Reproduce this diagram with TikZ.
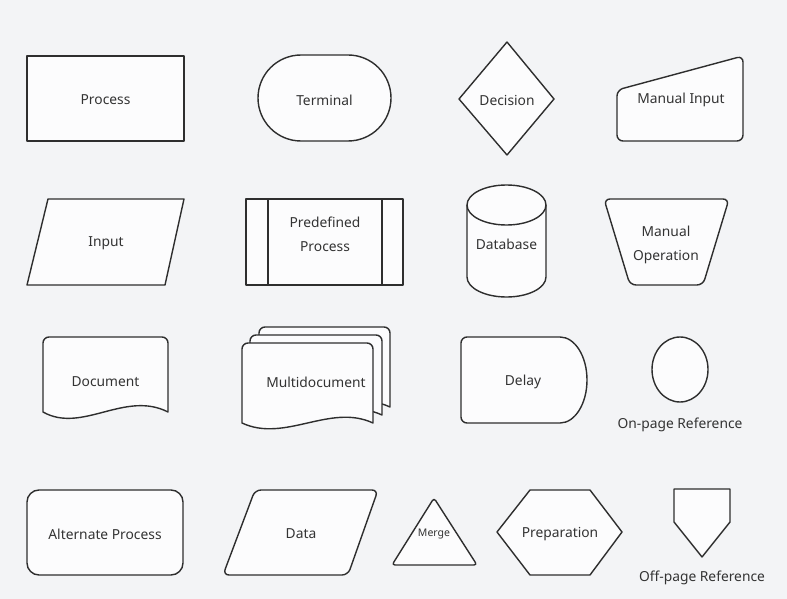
\documentclass[tikz,border=0pt]{standalone}
\usepackage{fontspec}
\setmainfont{Noto Sans}
\definecolor{bg}{HTML}{F3F4F6}
\definecolor{shapefill}{HTML}{FCFCFD}
\definecolor{ink}{HTML}{2E2E2E}
\definecolor{txt}{HTML}{333333}
\begin{document}
\begin{tikzpicture}[x=1pt,y=1pt,
  shp/.style={draw=ink,fill=shapefill,line width=1.4pt,line join=round},
  lbl/.style={font=\fontsize{13.8}{24}\selectfont,text=txt,align=center,inner sep=0pt},
  smalllbl/.style={font=\fontsize{10.5}{12}\selectfont,text=txt,inner sep=0pt}]
\fill[bg] (0,0) rectangle (787,-599);
\useasboundingbox (0,0) rectangle (787,-599);

% Row 1
\path[shp] (27,-56) rectangle (184,-141);
\node[lbl] (process) at (105.5,-100) {Process};

\path[shp,rounded corners=43] (258,-55) rectangle (391,-141);
\node[lbl] (terminal) at (324.5,-100) {Terminal};

\path[shp] (507,-42) -- (554,-99) -- (507,-155) -- (459,-99) -- cycle;
\node[lbl] (decision) at (507,-100) {Decision};

\path[shp,rounded corners=6] (617,-90) -- (743,-56) -- (743,-141) -- (617,-141) -- cycle;
\node[lbl] (manualinput) at (681,-100) {Manual Input};

% Row 2
\path[shp] (48,-199) -- (184,-199) -- (165,-285) -- (27,-285) -- cycle;
\node[lbl] (input) at (106,-243) {Input};

\path[shp] (246,-199) rectangle (403,-285);
\draw[ink,line width=1.4pt] (268,-199) -- (268,-285) (382,-199) -- (382,-285);
\node[lbl] (predefined) at (325,-234) {Predefined\\Process};

\path[shp] (467,-205) -- (467,-277) arc[start angle=180,end angle=360,x radius=39.5,y radius=20] -- (546,-205) arc[start angle=0,end angle=180,x radius=39.5,y radius=20] -- cycle;
\draw[ink,line width=1.4pt] (467,-205) arc[start angle=180,end angle=360,x radius=39.5,y radius=20];
\node[lbl] (database) at (506.5,-244) {Database};

\path[shp,rounded corners=6] (604,-199) -- (729,-199) -- (703,-285) -- (630,-285) -- cycle;
\node[lbl] (manualop) at (666,-245) {Manual\\Operation};

% Row 3
\path[shp] (43,-412) [rounded corners=6] -- (43,-337) -- (168,-337) [sharp corners] -- (168,-412) .. controls (125,-390) and (82,-434) .. (43,-412) -- cycle;
\node[lbl] (document) at (105.5,-382) {Document};

\path[shp] (259,-407) [rounded corners=6] -- (259,-327) -- (390,-327) [sharp corners] -- (390,-407) .. controls (347,-387) and (302,-427) .. (259,-407) -- cycle;
\path[shp] (250,-415) [rounded corners=6] -- (250,-335) -- (382,-335) [sharp corners] -- (382,-415) .. controls (339,-395) and (293,-435) .. (250,-415) -- cycle;
\path[shp] (242,-423) [rounded corners=6] -- (242,-343) -- (373,-343) [sharp corners] -- (373,-423) .. controls (330,-403) and (285,-443) .. (242,-423) -- cycle;
\node[lbl] (multidoc) at (316,-382) {Multidocument};

\path[shp] (560,-337) [rounded corners=6] -- (461,-337) -- (461,-423) [sharp corners] -- (560,-423) arc[start angle=-90,end angle=90,x radius=27,y radius=43] -- cycle;
\node[lbl] (delay) at (523,-382) {Delay};

\path[shp] (680,-369.5) ellipse[x radius=28,y radius=32.5];
\node[lbl] (onpage) at (680,-425) {On-page Reference};

% Row 4
\path[shp,rounded corners=12] (27,-490) rectangle (183,-575);
\node[lbl] (altprocess) at (105,-534) {Alternate Process};

\path[shp,rounded corners=6] (255,-490) -- (378,-490) -- (348,-575) -- (223,-575) -- cycle;
\node[lbl] (data) at (301,-534) {Data};

\path[shp,rounded corners=3] (434,-498) -- (477,-565) -- (392,-565) -- cycle;
\node[smalllbl] (merge) at (434,-534) {Merge};

\path[shp] (530,-490) -- (590,-490) -- (622,-532) -- (590,-575) -- (530,-575) -- (497,-532) -- cycle;
\node[lbl] (prep) at (560,-534) {Preparation};

\path[shp] (674,-489) -- (730,-489) -- (730,-522) -- (702,-557) -- (674,-522) -- cycle;
\node[lbl] (offpage) at (702,-578) {Off-page Reference};
\end{tikzpicture}
\end{document}
